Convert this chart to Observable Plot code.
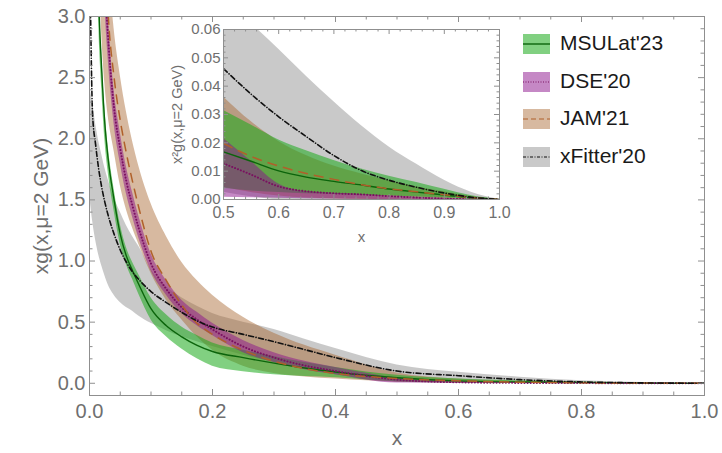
<!DOCTYPE html>
<html><head><meta charset="utf-8">
<script src="https://cdn.jsdelivr.net/npm/d3@7"></script>
<script src="https://cdn.jsdelivr.net/npm/@observablehq/plot@0.6"></script>
<style>
body{margin:0;background:#fff;font-family:"Liberation Sans",Arial,sans-serif;}
#wrap{position:relative;width:722px;height:453px;overflow:hidden;}
#main,#inset,#legend{position:absolute;}
#main{left:0;top:0;}
#inset{left:140px;top:0;}
#legend{left:523px;top:34px;}
</style></head><body>
<div id="wrap"><div id="main"></div><div id="inset"></div><div id="legend"></div></div>
<script>
// ---------- main panel: xg(x, mu=2 GeV) ----------
const xGrid = [0.001,0.005,0.01,0.015,0.02,0.025,0.03,0.04,0.05,0.06,0.07,0.08,0.1,0.125,0.15,0.175,0.2,0.25,0.3,0.35,0.4,0.5,0.6,0.7,0.8,0.9,1.0];

const msuMid = [25,8.5,4.6,3.15,2.55,2.12,1.85,1.5,1.22,1.04,0.92,0.81,0.61,0.47,0.38,0.31,0.26,0.21,0.165,0.125,0.092,0.045,0.02,0.01,0.005,0.0015,0];
const msuLo  = [22,7.8,4.2,2.95,2.4,1.99,1.74,1.41,1.14,0.97,0.85,0.73,0.52,0.38,0.28,0.2,0.14,0.095,0.07,0.055,0.045,0.012,0.004,0.002,0.001,0.0004,0];
const msuHi  = [28,9.2,5.0,3.35,2.7,2.25,1.96,1.59,1.3,1.11,0.99,0.89,0.70,0.56,0.46,0.39,0.33,0.27,0.22,0.17,0.13,0.065,0.034,0.02,0.01,0.003,0];

const dseMid = [25,10,6.5,5.0,4.0,3.3,2.85,2.25,1.92,1.65,1.45,1.27,0.98,0.77,0.62,0.52,0.44,0.30,0.21,0.145,0.10,0.03,0.008,0.003,0.0015,0.0004,0];
const dseLo  = [23,9.4,6.1,4.7,3.75,3.1,2.68,2.12,1.8,1.55,1.36,1.19,0.92,0.72,0.57,0.47,0.39,0.25,0.17,0.11,0.07,0.002,0.0008,0.0003,0.0001,0,0];
const dseHi  = [27,10.7,6.95,5.35,4.28,3.53,3.05,2.4,2.05,1.77,1.56,1.37,1.06,0.84,0.68,0.58,0.49,0.35,0.25,0.18,0.13,0.043,0.009,0.003,0.0015,0.0005,0];

const jamMid = [25,12,7.5,5.5,4.3,3.6,3.05,2.5,2.15,1.88,1.65,1.44,1.08,0.84,0.64,0.49,0.40,0.27,0.18,0.12,0.08,0.04,0.02,0.009,0.0045,0.0017,0];
const jamLo  = [15,7,4.5,3.5,2.85,2.45,2.2,1.9,1.62,1.42,1.27,1.14,0.9,0.68,0.52,0.38,0.27,0.14,0.08,0.052,0.035,0.009,0.002,0.0003,0,0,0];
const jamHi  = [30,15,9,6.3,4.9,4.0,3.5,2.9,2.52,2.22,1.98,1.78,1.47,1.2,0.99,0.84,0.72,0.54,0.41,0.31,0.23,0.085,0.034,0.017,0.008,0.003,0];

const xfMid  = [3.3,2.2,1.95,1.75,1.6,1.48,1.38,1.22,1.09,0.99,0.91,0.85,0.75,0.66,0.58,0.51,0.46,0.40,0.34,0.275,0.21,0.10,0.062,0.03,0.011,0.003,0];
const xfLo   = [1.5,1.33,1.17,1.05,0.96,0.88,0.81,0.72,0.66,0.62,0.59,0.55,0.49,0.43,0.38,0.34,0.30,0.23,0.17,0.12,0.07,0.008,0,0,0,0,0];
const xfHi   = [2.4,2.3,2.12,1.98,1.87,1.76,1.67,1.52,1.4,1.29,1.2,1.12,0.93,0.79,0.70,0.63,0.57,0.50,0.44,0.36,0.285,0.15,0.09,0.05,0.02,0.006,0];

// ---------- inset: x^2 g(x, mu=2 GeV) ----------
const inX = [0.5,0.55,0.6,0.65,0.7,0.75,0.8,0.85,0.9,0.95,1.0];
const inMsuMid = [0.0168,0.0135,0.0101,0.0079,0.0064,0.0051,0.0037,0.0026,0.0016,0.0006,0];
const inMsuLo  = [0.004,0.003,0.0025,0.002,0.0018,0.0015,0.0012,0.0009,0.0005,0.0002,0];
const inMsuHi  = [0.0314,0.0263,0.021,0.0172,0.0138,0.0108,0.0082,0.006,0.0036,0.0013,0];
const inDseMid = [0.0127,0.0088,0.0046,0.0029,0.0022,0.0018,0.0012,0.0007,0.0003,0.0001,0];
const inDseLo  = [0.0008,0.0006,0.0004,0.0003,0.0002,0.0001,0,0,0,0,0];
const inDseHi  = [0.0215,0.0135,0.0055,0.0028,0.0022,0.0018,0.0012,0.0008,0.0004,0.0001,0];
const inJamMid = [0.0198,0.0152,0.0118,0.0092,0.0071,0.0052,0.0038,0.0027,0.0017,0.0007,0];
const inJamLo  = [0.0043,0.0025,0.0012,0.0005,0.0002,0,0,0,0,0,0];
const inJamHi  = [0.0362,0.0275,0.0205,0.0155,0.0118,0.009,0.0066,0.0045,0.0027,0.0011,0];
const inXfMid  = [0.0462,0.0372,0.0292,0.0222,0.0155,0.0102,0.0068,0.0043,0.0023,0.0008,0];
const inXfLo   = [0.0026,0.001,0,0,0,0,0,0,0,0,0];
const inXfHi   = [0.0715,0.0622,0.053,0.0435,0.0345,0.026,0.0185,0.0124,0.0068,0.0025,0];

// ---------- labels / ticks ----------
const seriesNames = ["MSULat'23","DSE'20","JAM'21","xFitter'20"];
const xTitle = "x";
const yTitle = "xg(x,\u03bc=2 GeV)";
const inYTitle = "x\u00b2g(x,\u03bc=2 GeV)";
const xMajor = [0,0.2,0.4,0.6,0.8,1.0];
const xMinor = [0.05,0.1,0.15,0.25,0.3,0.35,0.45,0.5,0.55,0.65,0.7,0.75,0.85,0.9,0.95];
const yMajor = [0,0.5,1.0,1.5,2.0,2.5,3.0];
const yMinor = [0.1,0.2,0.3,0.4,0.6,0.7,0.8,0.9,1.1,1.2,1.3,1.4,1.6,1.7,1.8,1.9,2.1,2.2,2.3,2.4,2.6,2.7,2.8,2.9];
const inXMajor = [0.5,0.6,0.7,0.8,0.9,1.0];
const inXMinor = [0.52,0.54,0.56,0.58,0.62,0.64,0.66,0.68,0.72,0.74,0.76,0.78,0.82,0.84,0.86,0.88,0.92,0.94,0.96,0.98];
const inYMajor = [0,0.01,0.02,0.03,0.04,0.05,0.06];
const inYMinor = [0.002,0.004,0.006,0.008,0.012,0.014,0.016,0.018,0.022,0.024,0.026,0.028,0.032,0.034,0.036,0.038,0.042,0.044,0.046,0.048,0.052,0.054,0.056,0.058];

// ---------- styles ----------
const FONT = "'Liberation Sans', Arial, sans-serif";
const FRAME = "#8f8f8f";
const TXT = "#6f6f6f";
const styles = {
  msu: {fill: "#1aaa1a", op: 0.55, stroke: "#0b640b", dash: null, w: 1.4, cap: "butt"},
  dse: {fill: "#8c128c", op: 0.5, stroke: "#7a1060", dash: "0.1 3", w: 2.0, cap: "round"},
  jam: {fill: "#a6632c", op: 0.45, stroke: "#b0602a", dash: "10 6", w: 1.5, cap: "butt"},
  xf:  {fill: "#777777", op: 0.4, stroke: "#111111", dash: "5 2.5 0.1 2.5", w: 1.6, cap: "round"}
};
const keys = ["msu","dse","jam","xf"];

function rows(xs, lo, mid, hi) {
  return xs.map((x, i) => ({x, lo: lo[i], mid: mid[i], hi: hi[i]}));
}
const mainData = {
  msu: rows(xGrid, msuLo, msuMid, msuHi),
  dse: rows(xGrid, dseLo, dseMid, dseHi),
  jam: rows(xGrid, jamLo, jamMid, jamHi),
  xf:  rows(xGrid, xfLo, xfMid, xfHi)
};
const insetData = {
  msu: rows(inX, inMsuLo, inMsuMid, inMsuHi),
  dse: rows(inX, inDseLo, inDseMid, inDseHi),
  jam: rows(inX, inJamLo, inJamMid, inJamHi),
  xf:  rows(inX, inXfLo, inXfMid, inXfHi)
};
const bandOrder = ["xf","jam","msu","dse"];
const lineOrder = ["msu","dse","jam","xf"];

function bandMarks(data) {
  return bandOrder.map(k => Plot.areaY(data[k], {x: "x", y1: "lo", y2: "hi", fill: styles[k].fill, fillOpacity: styles[k].op, curve: "monotone-x", clip: true}));
}
function lineMarks(data) {
  return lineOrder.map(k => Plot.lineY(data[k], {x: "x", y: "mid", stroke: styles[k].stroke, strokeWidth: styles[k].w, strokeDasharray: styles[k].dash, strokeLinecap: styles[k].cap, curve: "monotone-x", clip: true}));
}
function frameTicks(xMaj, xMin, yMaj, yMin, pw, ph, big, small) {
  return [
    Plot.tickX(xMaj, {x: d => d, insetTop: ph - big, stroke: FRAME}),
    Plot.tickX(xMin, {x: d => d, insetTop: ph - small, stroke: FRAME}),
    Plot.tickX(xMaj, {x: d => d, insetBottom: ph - big, stroke: FRAME}),
    Plot.tickX(xMin, {x: d => d, insetBottom: ph - small, stroke: FRAME}),
    Plot.tickY(yMaj, {y: d => d, insetRight: pw - big, stroke: FRAME}),
    Plot.tickY(yMin, {y: d => d, insetRight: pw - small, stroke: FRAME}),
    Plot.tickY(yMaj, {y: d => d, insetLeft: pw - big, stroke: FRAME}),
    Plot.tickY(yMin, {y: d => d, insetLeft: pw - small, stroke: FRAME})
  ];
}

// main
const M = {l: 89, r: 18, t: 16, b: 58, w: 722, h: 453};
const mpw = M.w - M.l - M.r, mph = M.h - M.t - M.b;
const mainPlot = Plot.plot({
  width: M.w, height: M.h,
  marginLeft: M.l, marginRight: M.r, marginTop: M.t, marginBottom: M.b,
  style: {background: "transparent", fontFamily: FONT, color: TXT},
  x: {domain: [0, 1]},
  y: {domain: [-0.1, 3]},
  marks: [
    ...bandMarks(mainData),
    ...lineMarks(mainData),
    ...frameTicks(xMajor, xMinor, yMajor, yMinor, mpw, mph, 6, 3.5),
    Plot.frame({stroke: FRAME}),
    Plot.axisX({ticks: xMajor, tickSize: 0, tickPadding: 8, fontSize: 20, tickFormat: d3.format(".1f"), label: null}),
    Plot.axisY({ticks: yMajor, tickSize: 0, tickPadding: 4, fontSize: 20, tickFormat: d3.format(".1f"), label: null}),
    Plot.text([xTitle], {text: d => d, frameAnchor: "bottom", dy: 43, lineAnchor: "middle", fontSize: 21, fill: TXT}),
    Plot.text([yTitle], {text: d => d, frameAnchor: "left", dx: -48, rotate: -90, textAnchor: "middle", lineAnchor: "middle", fontSize: 21, fill: TXT})
  ]
});
document.getElementById("main").appendChild(mainPlot);

// inset
const I = {l: 83, r: 21, t: 29, b: 51, w: 380, h: 250};
const ipw = I.w - I.l - I.r, iph = I.h - I.t - I.b;
const insetPlot = Plot.plot({
  width: I.w, height: I.h,
  marginLeft: I.l, marginRight: I.r, marginTop: I.t, marginBottom: I.b,
  style: {background: "transparent", fontFamily: FONT, color: TXT},
  x: {domain: [0.5, 1]},
  y: {domain: [0, 0.06]},
  marks: [
    Plot.frame({fill: "white"}),
    ...bandMarks(insetData),
    ...lineMarks(insetData),
    ...frameTicks(inXMajor, inXMinor, inYMajor, inYMinor, ipw, iph, 5, 2.5),
    Plot.frame({stroke: FRAME}),
    Plot.axisX({ticks: inXMajor, tickSize: 0, tickPadding: 7, fontSize: 16, tickFormat: d3.format(".1f"), label: null}),
    Plot.axisY({ticks: inYMajor, tickSize: 0, tickPadding: 3, fontSize: 15, tickFormat: d3.format(".2f"), label: null}),
    Plot.text([xTitle], {text: d => d, frameAnchor: "bottom", dy: 38, lineAnchor: "middle", fontSize: 15, fill: TXT}),
    Plot.text([inYTitle], {text: d => d, frameAnchor: "left", dx: -46, rotate: -90, textAnchor: "middle", lineAnchor: "middle", fontSize: 14.5, fill: TXT})
  ]
});
document.getElementById("inset").appendChild(insetPlot);

// legend
const leg = d3.select("#legend");
keys.forEach((k, i) => {
  const s = styles[k];
  const row = leg.append("div").style("position", "absolute").style("left", "0px").style("top", (i * 37.6) + "px")
    .style("height", "20px").style("width", "200px");
  const sv = row.append("svg").attr("width", 27).attr("height", 20).style("position", "absolute").style("left", "0px").style("top", "0px");
  sv.append("rect").attr("width", 27).attr("height", 20).attr("fill", s.fill).attr("fill-opacity", s.op);
  sv.append("line").attr("x1", 0).attr("x2", 27).attr("y1", 10).attr("y2", 10)
    .attr("stroke", s.stroke).attr("stroke-width", k === "msu" ? 1.4 : 1.1)
    .attr("stroke-dasharray", k === "dse" ? "1 1.5" : k === "jam" ? "5 3" : k === "xf" ? "3 1.5 1 1.5" : null);
  row.append("div").text(seriesNames[i]).style("position", "absolute").style("left", "37px").style("top", "-3px")
    .style("font-family", FONT).style("font-size", "21px").style("color", "#1a1a1a").style("line-height", "24px").style("white-space", "nowrap");
});
</script>
</body></html>
